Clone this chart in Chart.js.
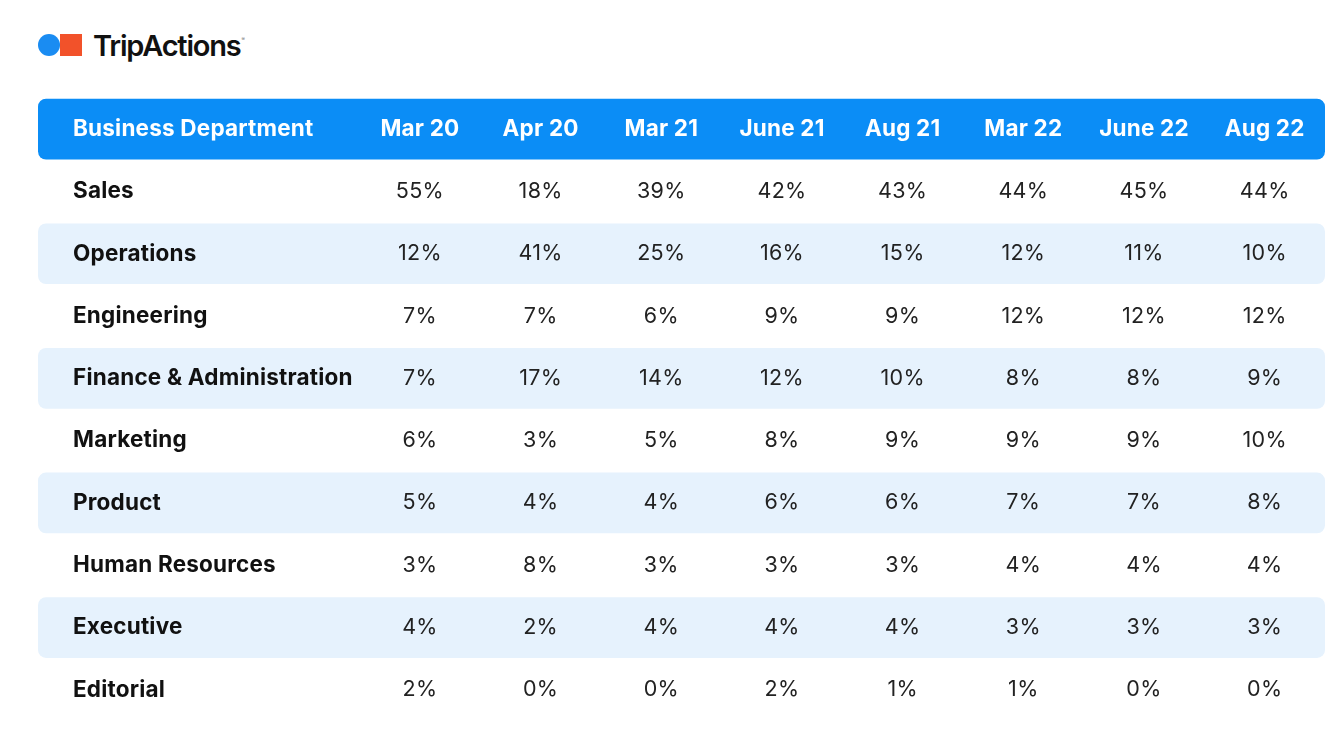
<!DOCTYPE html>
<html>
<head>
<meta charset="utf-8">
<script src="https://cdn.jsdelivr.net/npm/chart.js@4/dist/chart.umd.min.js"></script>
<style>
  html, body { margin: 0; padding: 0; background: #fff; }
  #wrap { position: relative; width: 1341px; height: 738px; }
  #logo { position: absolute; left: 38px; top: 34px; height: 22px; display: flex; align-items: center; }
  #logo .dot { width: 22px; height: 22px; border-radius: 50%; background: #1A8CF2; }
  #logo .sq { width: 22px; height: 22px; background: #F2522A; }
  #logo .name { font-family: Inter, sans-serif; font-weight: 600; font-size: 29px; letter-spacing: -1.2px; color: #111; margin-left: 11px; line-height: 22px; position: relative; top: -1px; }
  #logo .name sup { font-size: 5px; font-weight: 400; position: relative; top: -4px; margin-left: 1px; color: #666; }
  #tabla { position: absolute; left: 0; top: 0; }
</style>
</head>
<body>
<div id="wrap">
  <div id="logo"><div class="dot"></div><div class="sq"></div><div class="name">TripActions<sup>®</sup></div></div>
  <canvas id="tabla" width="1341" height="738"></canvas>
</div>
<script>
// Datos de la tabla
var headerLabel = 'Business Department';
var periods = ['Mar 20', 'Apr 20', 'Mar 21', 'June 21', 'Aug 21', 'Mar 22', 'June 22', 'Aug 22'];
var departments = ['Sales', 'Operations', 'Engineering', 'Finance & Administration', 'Marketing',
  'Product', 'Human Resources', 'Executive', 'Editorial'];

var sales       = [55, 18, 39, 42, 43, 44, 45, 44];
var operations  = [12, 41, 25, 16, 15, 12, 11, 10];
var engineering = [7, 7, 6, 9, 9, 12, 12, 12];
var finance     = [7, 17, 14, 12, 10, 8, 8, 9];
var marketing   = [6, 3, 5, 8, 9, 9, 9, 10];
var product     = [5, 4, 4, 6, 6, 7, 7, 8];
var hr          = [3, 8, 3, 3, 3, 4, 4, 4];
var executive   = [4, 2, 4, 4, 4, 3, 3, 3];
var editorial   = [2, 0, 0, 2, 1, 1, 0, 0];

var values = [sales, operations, engineering, finance, marketing, product, hr, executive, editorial];

// filas: cabecera + departamentos
var rows = [headerLabel].concat(departments);
var X_MIN = -3.165, X_MAX = 7.5, LABEL_X = -2.875;

var HEADER_BLUE = '#0B8DF6';
var STRIPE = '#E6F2FD';

var rowColors = rows.map(function(r, i) {
  if (i === 0) return HEADER_BLUE;
  return i % 2 === 0 ? STRIPE : 'rgba(0,0,0,0)';
});

var BOLD = '700 22.5px Inter, sans-serif';
var REG = '400 21.5px Inter, sans-serif';

// Texto de celdas, dibujado con las escalas
var textoCeldas = {
  id: 'textoCeldas',
  afterDatasetsDraw: function(chart) {
    var ctx = chart.ctx;
    var x = chart.scales.x, y = chart.scales.y;
    ctx.save();
    ctx.textBaseline = 'middle';

    // cabecera
    var yh = y.getPixelForValue(0);
    ctx.fillStyle = '#ffffff';
    ctx.font = BOLD;
    ctx.letterSpacing = '0.2px';
    ctx.textAlign = 'left';
    ctx.fillText(headerLabel, x.getPixelForValue(LABEL_X), yh);
    ctx.textAlign = 'center';
    periods.forEach(function(p, i) {
      ctx.fillText(p, x.getPixelForValue(i), yh);
    });

    // filas
    departments.forEach(function(d, r) {
      var yp = y.getPixelForValue(r + 1);
      ctx.fillStyle = '#111111';
      ctx.font = BOLD;
      ctx.letterSpacing = '0.2px';
      ctx.textAlign = 'left';
      ctx.fillText(d, x.getPixelForValue(LABEL_X), yp);
      ctx.font = REG;
      ctx.letterSpacing = '0.3px';
      ctx.fillStyle = '#222222';
      ctx.textAlign = 'center';
      values[r].forEach(function(v, i) {
        ctx.fillText(v + '%', x.getPixelForValue(i), yp);
      });
    });
    ctx.restore();
  }
};

var ctx = document.getElementById('tabla').getContext('2d');
new Chart(ctx, {
  type: 'bar',
  data: {
    labels: rows,
    datasets: [{
      data: rows.map(function() { return [X_MIN, X_MAX]; }),
      backgroundColor: rowColors,
      borderRadius: 8,
      borderSkipped: false,
      categoryPercentage: 1,
      barPercentage: 0.975
    }]
  },
  options: {
    indexAxis: 'y',
    responsive: false,
    animation: false,
    layout: { padding: { left: 38, right: 16, top: 98, bottom: 17 } },
    plugins: { legend: { display: false }, tooltip: { enabled: false } },
    scales: {
      x: { type: 'linear', min: X_MIN, max: X_MAX, display: false },
      y: { display: false }
    }
  },
  plugins: [textoCeldas]
});
</script>
</body>
</html>
